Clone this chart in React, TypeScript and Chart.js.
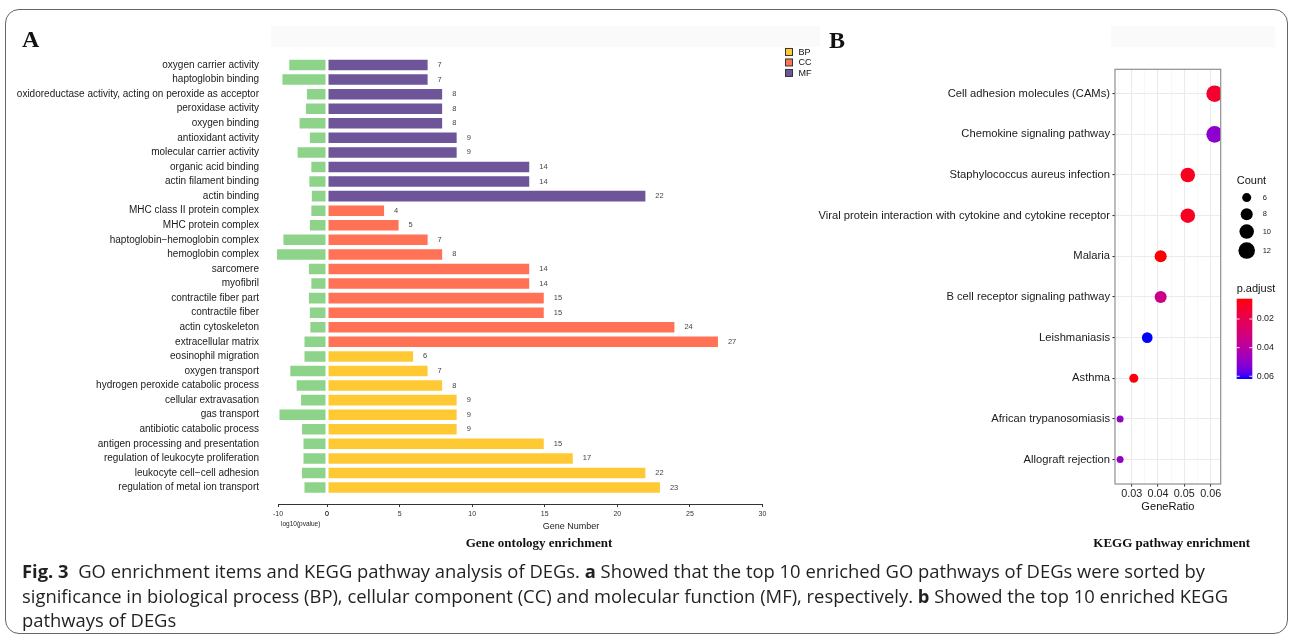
import React, { useEffect, useRef } from 'react';
import { Chart, registerables } from 'chart.js';

Chart.register(...registerables);

// ---------------- DATA ----------------
const goTerms = [
  'oxygen carrier activity',
  'haptoglobin binding',
  'oxidoreductase activity, acting on peroxide as acceptor',
  'peroxidase activity',
  'oxygen binding',
  'antioxidant activity',
  'molecular carrier activity',
  'organic acid binding',
  'actin filament binding',
  'actin binding',
  'MHC class II protein complex',
  'MHC protein complex',
  'haptoglobin\u2212hemoglobin complex',
  'hemoglobin complex',
  'sarcomere',
  'myofibril',
  'contractile fiber part',
  'contractile fiber',
  'actin cytoskeleton',
  'extracellular matrix',
  'eosinophil migration',
  'oxygen transport',
  'hydrogen peroxide catabolic process',
  'cellular extravasation',
  'gas transport',
  'antibiotic catabolic process',
  'antigen processing and presentation',
  'regulation of leukocyte proliferation',
  'leukocyte cell\u2212cell adhesion',
  'regulation of metal ion transport',
];
const goOntology = [
  'MF', 'MF', 'MF', 'MF', 'MF', 'MF', 'MF', 'MF', 'MF', 'MF',
  'CC', 'CC', 'CC', 'CC', 'CC', 'CC', 'CC', 'CC', 'CC', 'CC',
  'BP', 'BP', 'BP', 'BP', 'BP', 'BP', 'BP', 'BP', 'BP', 'BP',
];
const goGeneNumber = [7, 7, 8, 8, 8, 9, 9, 14, 14, 22, 4, 5, 7, 8, 14, 14, 15, 15, 24, 27, 6, 7, 8, 9, 9, 9, 15, 17, 22, 23];
const goLog10P = [
  -7.9, -9.3, -4.3, -4.5, -5.8, -3.7, -6.2, -3.4, -3.8, -3.3,
  -3.4, -3.7, -9.1, -10.4, -3.9, -3.4, -3.9, -3.7, -3.6, -4.8,
  -4.8, -7.7, -6.4, -5.5, -9.9, -5.3, -5.0, -5.0, -5.3, -4.8,
];
const goLegendCategories = ['BP', 'CC', 'MF'];

const keggPathways = [
  'Cell adhesion molecules (CAMs)',
  'Chemokine signaling pathway',
  'Staphylococcus aureus infection',
  'Viral protein interaction with cytokine and cytokine receptor',
  'Malaria',
  'B cell receptor signaling pathway',
  'Leishmaniasis',
  'Asthma',
  'African trypanosomiasis',
  'Allograft rejection',
];
const keggGeneRatio = [0.0615, 0.0615, 0.0513, 0.0513, 0.041, 0.041, 0.0359, 0.0308, 0.0256, 0.0256];
const keggCount = [12, 12, 10, 10, 8, 8, 7, 6, 5, 5];
const keggPAdjust = [0.0125, 0.0505, 0.0098, 0.0098, 0.0058, 0.0338, 0.0619, 0.0068, 0.0495, 0.0495];
const countLegendValues = [6, 8, 10, 12];
const pAdjustTicks = [0.02, 0.04, 0.06];

// ---------------- STYLE ----------------
const SANS = '"Liberation Sans", Arial, Helvetica, sans-serif';
const SERIF = '"Liberation Serif", "Times New Roman", serif';
const CAPTION_FONT = '"Open Sans", "Noto Sans", sans-serif';
const ONTOLOGY_COLORS: Record<string, string> = { BP: '#FFC934', CC: '#FF7255', MF: '#6E5499' };
const GREEN = '#8ED38A';

// Lab interpolation (ggplot-like gradient red -> blue)
function toLin(c: number) { const v = c / 255; return v <= 0.04045 ? v / 12.92 : Math.pow((v + 0.055) / 1.055, 2.4); }
function fromLin(v: number) { const c = v <= 0.0031308 ? 12.92 * v : 1.055 * Math.pow(Math.max(v, 0), 1 / 2.4) - 0.055; return Math.round(Math.max(0, Math.min(1, c)) * 255); }
function rgb2lab(r: number, g: number, b: number) {
  const R = toLin(r), G = toLin(g), B = toLin(b);
  const X = (0.4124564 * R + 0.3575761 * G + 0.1804375 * B) / 0.95047;
  const Y = 0.2126729 * R + 0.7151522 * G + 0.072175 * B;
  const Z = (0.0193339 * R + 0.119192 * G + 0.9503041 * B) / 1.08883;
  const f = (t: number) => (t > 0.008856 ? Math.cbrt(t) : 7.787 * t + 16 / 116);
  const fx = f(X), fy = f(Y), fz = f(Z);
  return [116 * fy - 16, 500 * (fx - fy), 200 * (fy - fz)];
}
function lab2rgb(L: number, a: number, b: number) {
  const fy = (L + 16) / 116, fx = fy + a / 500, fz = fy - b / 200;
  const inv = (t: number) => (t * t * t > 0.008856 ? t * t * t : (t - 16 / 116) / 7.787);
  const X = 0.95047 * inv(fx), Y = inv(fy), Z = 1.08883 * inv(fz);
  const R = 3.2404542 * X - 1.5371385 * Y - 0.4985314 * Z;
  const G = -0.969266 * X + 1.8760108 * Y + 0.041556 * Z;
  const B = 0.0556434 * X - 0.2040259 * Y + 1.0572252 * Z;
  return [fromLin(R), fromLin(G), fromLin(B)];
}
const LAB_LOW = rgb2lab(255, 0, 0);
const LAB_HIGH = rgb2lab(0, 0, 255);
function gradColor(t: number) {
  const k = Math.max(0, Math.min(1, t));
  const [r, g, b] = lab2rgb(
    LAB_LOW[0] + (LAB_HIGH[0] - LAB_LOW[0]) * k,
    LAB_LOW[1] + (LAB_HIGH[1] - LAB_LOW[1]) * k,
    LAB_LOW[2] + (LAB_HIGH[2] - LAB_LOW[2]) * k,
  );
  return `rgb(${r},${g},${b})`;
}
const P_MIN = Math.min(...keggPAdjust);
const P_MAX = Math.max(...keggPAdjust);
const colorForP = (p: number) => gradColor((p - P_MIN) / (P_MAX - P_MIN));
const C_MIN = Math.min(...keggCount);
const C_MAX = Math.max(...keggCount);
const R_MIN = 3.5, R_MAX = 8.3;
const radiusForCount = (c: number) => Math.sqrt(R_MIN * R_MIN + (R_MAX * R_MAX - R_MIN * R_MIN) * (c - C_MIN) / (C_MAX - C_MIN));
const isMajor = (v: number) => Math.abs(v * 100 - Math.round(v * 100)) < 1e-6;

// ---------------- PLUGINS ----------------
const valueLabelPlugin = {
  id: 'valueLabels',
  afterDatasetsDraw(chart: any) {
    const ctx = chart.ctx;
    ctx.save();
    ctx.font = `7.5px ${SANS}`;
    ctx.fillStyle = '#444';
    ctx.textAlign = 'left';
    ctx.textBaseline = 'middle';
    chart.data.datasets.forEach((ds: any, di: number) => {
      if (ds.xAxisID !== 'xr') return;
      const meta = chart.getDatasetMeta(di);
      meta.data.forEach((el: any, j: number) => {
        ctx.fillText(String(ds.data[j].x), el.x + 9, el.y);
      });
    });
    ctx.restore();
  },
};

const goLegendPlugin = {
  id: 'goLegend',
  afterDraw(chart: any) {
    const ctx = chart.ctx;
    const ca = chart.chartArea;
    ctx.save();
    goLegendCategories.forEach((cat, i) => {
      const x = ca.right + 23;
      const y = ca.top - 4.3 + i * 10.5;
      ctx.fillStyle = ONTOLOGY_COLORS[cat];
      ctx.fillRect(x, y - 3.5, 7, 7);
      ctx.strokeStyle = '#333';
      ctx.lineWidth = 1;
      ctx.strokeRect(x, y - 3.5, 7, 7);
      ctx.fillStyle = '#111';
      ctx.font = `9px ${SANS}`;
      ctx.textAlign = 'left';
      ctx.textBaseline = 'middle';
      ctx.fillText(cat, x + 13, y + 0.5);
    });
    ctx.restore();
  },
};

const panelBorderPlugin = {
  id: 'panelBorder',
  afterDatasetsDraw(chart: any) {
    const ctx = chart.ctx;
    const ca = chart.chartArea;
    ctx.save();
    ctx.strokeStyle = '#8f8f8f';
    ctx.lineWidth = 1.2;
    ctx.strokeRect(ca.left, ca.top, ca.right - ca.left, ca.bottom - ca.top);
    ctx.restore();
  },
};

const keggLegendPlugin = {
  id: 'keggLegend',
  afterDraw(chart: any) {
    const ctx = chart.ctx;
    const ca = chart.chartArea;
    const x0 = ca.right + 16;
    ctx.save();
    // Count legend
    ctx.fillStyle = '#111';
    ctx.font = `11px ${SANS}`;
    ctx.textAlign = 'left';
    ctx.textBaseline = 'middle';
    ctx.fillText('Count', x0, ca.top + 111.4);
    let y = ca.top + 120;
    countLegendValues.forEach((c) => {
      const r = radiusForCount(c);
      const kh = Math.max(16.6, 2 * r + 3.5);
      const cy = y + kh / 2;
      ctx.beginPath();
      ctx.arc(x0 + 10, cy, r, 0, Math.PI * 2);
      ctx.fillStyle = '#000';
      ctx.fill();
      ctx.fillStyle = '#222';
      ctx.font = `7.5px ${SANS}`;
      ctx.fillText(String(c), x0 + 26, cy);
      y += kh;
    });
    // p.adjust colourbar
    const barTop = ca.top + 229.4;
    const barH = 80.3;
    const barW = 15.6;
    ctx.fillStyle = '#111';
    ctx.font = `11px ${SANS}`;
    ctx.fillText('p.adjust', x0, ca.top + 220);
    const grad = ctx.createLinearGradient(0, barTop, 0, barTop + barH);
    for (let i = 0; i <= 20; i++) grad.addColorStop(i / 20, gradColor(i / 20));
    ctx.fillStyle = grad;
    ctx.fillRect(x0, barTop, barW, barH);
    pAdjustTicks.forEach((v) => {
      const ty = barTop + ((v - P_MIN) / (P_MAX - P_MIN)) * barH;
      ctx.strokeStyle = 'rgba(255,255,255,0.9)';
      ctx.lineWidth = 1;
      ctx.beginPath();
      ctx.moveTo(x0, ty); ctx.lineTo(x0 + 3, ty);
      ctx.moveTo(x0 + barW - 3, ty); ctx.lineTo(x0 + barW, ty);
      ctx.stroke();
      ctx.fillStyle = '#222';
      ctx.font = `8.9px ${SANS}`;
      ctx.fillText(v.toFixed(2), x0 + 20, ty);
    });
    ctx.restore();
  },
};

// ---------------- CHARTS ----------------
function buildGoChart(canvas: HTMLCanvasElement) {
  const greenDs = {
    label: 'log10(pvalue)',
    data: goLog10P.map((v, i) => ({ x: v, y: i + 1 })),
    xAxisID: 'xl',
    yAxisID: 'y',
    backgroundColor: GREEN,
    borderColor: 'rgba(255,255,255,0.45)',
    borderWidth: 1,
    borderSkipped: false,
    clip: false,
  };
  const ontDs = goLegendCategories.map((cat) => ({
    label: cat,
    data: goTerms
      .map((_, i) => (goOntology[i] === cat ? { x: goGeneNumber[i], y: i + 1 } : null))
      .filter((d) => d !== null),
    xAxisID: 'xr',
    yAxisID: 'y',
    backgroundColor: ONTOLOGY_COLORS[cat],
    borderColor: 'rgba(255,255,255,0.45)',
    borderWidth: 1,
    borderSkipped: false,
  }));
  const tickBase = { color: '#333', font: { size: 7, family: SANS }, padding: 3, maxRotation: 0, autoSkip: false, includeBounds: false };
  const xCommon = (extra: any) => ({
    type: 'linear',
    axis: 'x',
    position: 'bottom',
    stack: 'go',
    offset: false,
    grid: { display: true, drawOnChartArea: false, drawTicks: true, tickLength: 3, color: '#333', tickColor: '#333' },
    border: { display: true, color: '#333', width: 1 },
    afterFit: (s: any) => { s.height = 30; s.paddingLeft = 0; s.paddingRight = 0; },
    ...extra,
  });
  return new Chart(canvas, {
    type: 'bar',
    data: { datasets: [greenDs, ...ontDs] as any },
    options: {
      indexAxis: 'y',
      animation: false,
      responsive: false,
      events: [],
      datasets: { bar: { grouped: false, barPercentage: 0.86, categoryPercentage: 1 } } as any,
      layout: { padding: { left: 0, top: 56.26, right: 77.5, bottom: 26 } },
      scales: {
        y: {
          type: 'linear',
          reverse: true,
          offset: false,
          min: 0.4,
          max: 31.13,
          grid: { display: false, offset: false },
          border: { display: false },
          ticks: {
            stepSize: 1,
            autoSkip: false,
            includeBounds: false,
            padding: 11,
            color: '#1a1a1a',
            font: { size: 10, family: SANS },
            callback: (v: any) => (Number.isInteger(v) && goTerms[v - 1] ? goTerms[v - 1] : ''),
          },
          afterFit: (s: any) => { s.width = 278; s.paddingTop = 0; s.paddingBottom = 0; },
        },
        xl: xCommon({ min: -10, max: 0, stackWeight: 49, ticks: { ...tickBase, stepSize: 10 } }),
        xr: xCommon({ min: 0, max: 30, stackWeight: 435.5, ticks: { ...tickBase, stepSize: 5 } }),
      } as any,
      plugins: { legend: { display: false }, tooltip: { enabled: false }, title: { display: false } },
    },
    plugins: [valueLabelPlugin, goLegendPlugin],
  } as any);
}

function buildKeggChart(canvas: HTMLCanvasElement) {
  return new Chart(canvas, {
    type: 'scatter',
    data: {
      datasets: [
        {
          label: 'KEGG',
          data: keggPathways.map((_, i) => ({ x: keggGeneRatio[i], y: i + 1 })),
          pointRadius: (ctx: any) => radiusForCount(keggCount[ctx.dataIndex]),
          backgroundColor: (ctx: any) => colorForP(keggPAdjust[ctx.dataIndex]),
          borderWidth: 0,
          clip: 0,
        } as any,
      ],
    },
    options: {
      animation: false,
      responsive: false,
      events: [],
      layout: { padding: { left: 0, top: 69.3, right: 69.3, bottom: 46 } },
      scales: {
        x: {
          type: 'linear',
          offset: false,
          min: 0.02366,
          max: 0.0638,
          grid: {
            display: true,
            drawOnChartArea: true,
            drawTicks: true,
            tickLength: 2.5,
            color: (c: any) => (c.tick && isMajor(c.tick.value) ? '#EBEBEB' : '#F4F4F4'),
            lineWidth: (c: any) => (c.tick && isMajor(c.tick.value) ? 1.1 : 0.6),
            tickColor: (c: any) => (c.tick && isMajor(c.tick.value) ? '#333' : 'rgba(0,0,0,0)'),
          },
          border: { display: false },
          ticks: {
            stepSize: 0.005,
            includeBounds: false,
            autoSkip: false,
            maxRotation: 0,
            padding: 1.3,
            color: '#222',
            font: { size: 10.8, family: SANS },
            callback: (v: any) => (isMajor(v) ? Number(v).toFixed(2) : ''),
          },
          title: { display: true, text: 'GeneRatio', color: '#111', font: { size: 11.1, family: SANS }, padding: { top: 0, bottom: 0 } },
          afterFit: (s: any) => { s.height = 30; s.paddingLeft = 0; s.paddingRight = 0; },
        },
        y: {
          type: 'linear',
          reverse: true,
          offset: false,
          min: 0.4,
          max: 10.6,
          grid: { display: true, color: '#EBEBEB', lineWidth: 1.1, drawTicks: true, tickLength: 2.5, tickColor: '#333' },
          border: { display: false },
          ticks: {
            stepSize: 1,
            autoSkip: false,
            includeBounds: false,
            padding: 2.5,
            color: '#1a1a1a',
            font: { size: 11.2, family: SANS },
            callback: (v: any) => (Number.isInteger(v) && keggPathways[v - 1] ? keggPathways[v - 1] : ''),
          },
          afterFit: (s: any) => { s.width = 335; s.paddingTop = 0; s.paddingBottom = 0; },
        },
      } as any,
      plugins: { legend: { display: false }, tooltip: { enabled: false } },
    },
    plugins: [panelBorderPlugin, keggLegendPlugin],
  } as any);
}

// ---------------- COMPONENT ----------------
function Txt(props: { x: number; y: number; anchor?: 'left' | 'center'; style?: React.CSSProperties; children: React.ReactNode }) {
  const { x, y, anchor = 'left', style, children } = props;
  return (
    <div
      style={{
        position: 'absolute',
        left: x,
        top: y,
        transform: anchor === 'center' ? 'translate(-50%, -50%)' : 'translate(0, -50%)',
        whiteSpace: 'nowrap',
        lineHeight: 1,
        ...style,
      }}
    >
      {children}
    </div>
  );
}

export default function App() {
  const goRef = useRef<HTMLCanvasElement>(null);
  const keggRef = useRef<HTMLCanvasElement>(null);

  useEffect(() => {
    const c1 = buildGoChart(goRef.current as HTMLCanvasElement);
    const c2 = buildKeggChart(keggRef.current as HTMLCanvasElement);
    return () => { c1.destroy(); c2.destroy(); };
  }, []);

  const captionStyle: React.CSSProperties = { fontFamily: CAPTION_FONT, fontSize: 18.4, color: '#231f20' };

  return (
    <div style={{ position: 'absolute', left: 0, top: 0, width: 1290, height: 643, background: '#fff', overflow: 'hidden' }}>
      <div style={{ position: 'absolute', left: 5, top: 9, width: 1283, height: 625, border: '1.5px solid #666', borderRadius: 14, boxSizing: 'border-box' }} />
      <div style={{ position: 'absolute', left: 271, top: 26, width: 549, height: 21, background: '#fafafa' }} />
      <div style={{ position: 'absolute', left: 1111, top: 26, width: 164, height: 21, background: '#fafafa' }} />

      <canvas ref={goRef} width={840} height={560} style={{ position: 'absolute', left: 0, top: 0, width: 840, height: 560 }} />
      <canvas ref={keggRef} width={510} height={560} style={{ position: 'absolute', left: 780, top: 0, width: 510, height: 560 }} />

      <Txt x={22} y={39} style={{ fontFamily: SERIF, fontWeight: 'bold', fontSize: 24, color: '#111' }}>A</Txt>
      <Txt x={829} y={40} style={{ fontFamily: SERIF, fontWeight: 'bold', fontSize: 24, color: '#111' }}>B</Txt>

      <Txt x={300.7} y={524} anchor="center" style={{ fontFamily: SANS, fontSize: 6.5, color: '#222' }}>log10(pvalue)</Txt>
      <Txt x={571} y={526} anchor="center" style={{ fontFamily: SANS, fontSize: 9, color: '#222' }}>Gene Number</Txt>
      <Txt x={539} y={542} anchor="center" style={{ fontFamily: SERIF, fontWeight: 'bold', fontSize: 13, color: '#111' }}>Gene ontology enrichment</Txt>
      <Txt x={1171.7} y={542} anchor="center" style={{ fontFamily: SERIF, fontWeight: 'bold', fontSize: 13, color: '#111' }}>KEGG pathway enrichment</Txt>

      <Txt x={22} y={571} style={captionStyle}>
        <b>Fig. 3</b>&nbsp; GO enrichment items and KEGG pathway analysis of DEGs. <b>a</b> Showed that the top 10 enriched GO pathways of DEGs were sorted by
      </Txt>
      <Txt x={22} y={596} style={captionStyle}>
        significance in biological process (BP), cellular component (CC) and molecular function (MF), respectively. <b>b</b> Showed the top 10 enriched KEGG
      </Txt>
      <Txt x={22} y={620} style={captionStyle}>pathways of DEGs</Txt>
    </div>
  );
}
